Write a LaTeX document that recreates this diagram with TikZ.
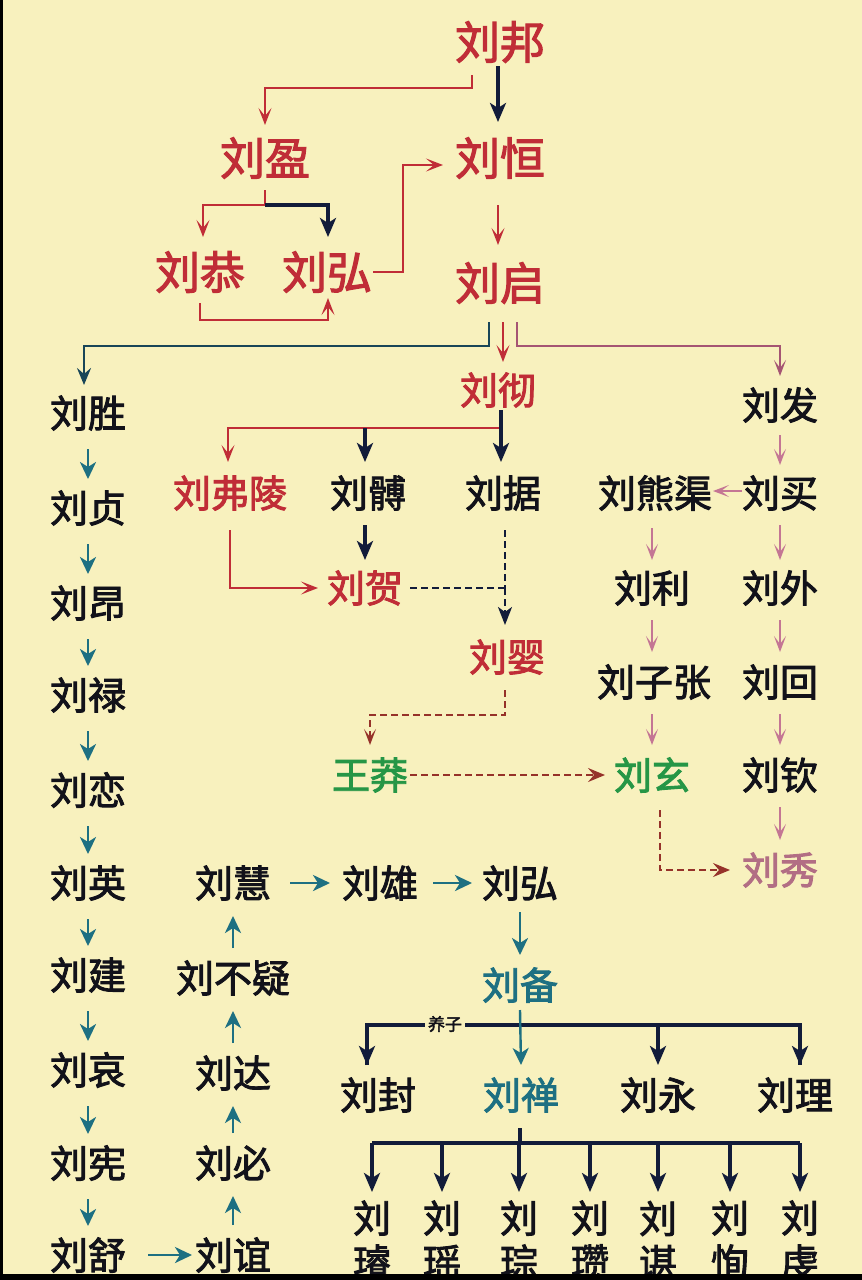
\documentclass[tikz,border=0pt]{standalone}
\usepackage{fontspec}
\newfontfamily\cjk[FakeBold=2.4]{Noto Sans CJK SC}
\usetikzlibrary{arrows.meta,calc}
\definecolor{bgc}{RGB}{248,241,190}
\definecolor{hred}{RGB}{192,45,55}
\definecolor{navyc}{RGB}{18,28,58}
\definecolor{tealc}{RGB}{30,112,130}
\definecolor{tealnavy}{RGB}{25,70,88}
\definecolor{pinkc}{RGB}{196,118,148}
\definecolor{mauve}{RGB}{165,85,115}
\definecolor{greenc}{RGB}{38,150,70}
\definecolor{txt}{RGB}{18,18,26}
\definecolor{xiuc}{RGB}{178,110,132}
\definecolor{dred}{RGB}{150,50,42}
\tikzset{
  nm/.style={font=\cjk\fontsize{38}{44}\selectfont, inner sep=0pt, text=txt, align=center},
  bign/.style={nm, font=\cjk\fontsize{45}{48}\selectfont},
  rd/.style={text=hred},
  navyarr/.style={draw=navyc, line width=3.2pt, -{Stealth[length=19pt,width=16pt,inset=5pt]}},
  navyline/.style={draw=navyc, line width=3.2pt},
  redarr/.style={draw=hred, line width=2pt, -{Stealth[length=17pt,width=13pt,inset=8pt]}},
  redline/.style={draw=hred, line width=2pt},
  pinkarr/.style={draw=pinkc, line width=1.8pt, -{Stealth[length=16pt,width=12pt,inset=8pt]}},
  mauvearr/.style={draw=mauve, line width=2pt, -{Stealth[length=16pt,width=12pt,inset=8pt]}},
  tealarr/.style={draw=tealc, line width=2.8pt, -{Stealth[length=17pt,width=16pt,inset=5pt]}},
  tnarr/.style={draw=tealnavy, line width=2.6pt, -{Stealth[length=17pt,width=14pt,inset=6pt]}},
  dashnavy/.style={draw=navyc, line width=2.4pt, dash pattern=on 7pt off 4pt},
  dashred/.style={draw=dred, line width=2pt, dash pattern=on 7pt off 4pt},
}
\begin{document}
\begin{tikzpicture}[x=1pt,y=-1pt]
\useasboundingbox (0,0) rectangle (862,1280);
\fill[bgc] (0,0) rectangle (862,1280);

% --- top (red, large)
\node[bign,rd] (bang) at (500,42) {刘邦};
\node[bign,rd] (ying) at (265,158) {刘盈};
\node[bign,rd] (heng) at (500,158) {刘恒};
\node[bign,rd] (gong) at (200,272) {刘恭};
\node[bign,rd] (hongA) at (327,272) {刘弘};
\node[bign,rd] (qi) at (500,283) {刘启};

% --- middle
\node[nm,rd] (che) at (498,390) {刘彻};
\node[nm] (fa) at (780,405) {刘发};
\node[nm,rd] (fuling) at (230,493) {刘弗陵};
\node[nm] (bo) at (368,493) {刘髆};
\node[nm] (ju) at (503,493) {刘据};
\node[nm] (xiongqu) at (655,493) {刘熊渠};
\node[nm] (mai) at (780,493) {刘买};
\node[nm,rd] (he) at (365,588) {刘贺};
\node[nm] (li) at (652,588) {刘利};
\node[nm] (wai) at (780,588) {刘外};
\node[nm,rd] (yingB) at (507,657) {刘婴};
\node[nm] (zizhang) at (654,682) {刘子张};
\node[nm] (hui) at (780,682) {刘回};
\node[nm,text=greenc] (mang) at (370,775) {王莽};
\node[nm,text=greenc] (xuan) at (652,775) {刘玄};
\node[nm] (qin) at (780,775) {刘钦};
\node[nm,text=xiuc] (xiu) at (780,870) {刘秀};

% --- left column
\node[nm] (sheng) at (88,413) {刘胜};
\node[nm] (zhen) at (88,508) {刘贞};
\node[nm] (ang) at (88,603) {刘昂};
\node[nm] (lu) at (88,695) {刘禄};
\node[nm] (lian) at (88,790) {刘恋};
\node[nm] (yingC) at (88,883) {刘英};
\node[nm] (jian) at (88,975) {刘建};
\node[nm] (ai) at (88,1070) {刘哀};
\node[nm] (xian) at (88,1163) {刘宪};
\node[nm] (shu) at (88,1255) {刘舒};

% --- second column up
\node[nm] (yi) at (233,1255) {刘谊};
\node[nm] (bi) at (233,1163) {刘必};
\node[nm] (da) at (233,1073) {刘达};
\node[nm] (buyi) at (233,978) {刘不疑};
\node[nm] (huiA) at (233,883) {刘慧};
\node[nm] (xiong) at (380,883) {刘雄};
\node[nm] (hongB) at (520,883) {刘弘};
\node[nm,text=tealc] (bei) at (520,985) {刘备};
\node[nm] (feng) at (378,1095) {刘封};
\node[nm,text=tealc] (shan) at (521,1095) {刘禅};
\node[nm] (yong) at (658,1095) {刘永};
\node[nm] (lili) at (795,1095) {刘理};

% --- grandsons
\node[nm] (s1) at (372,1240) {刘\\璿};
\node[nm] (s2) at (442,1240) {刘\\瑶};
\node[nm] (s3) at (519,1240) {刘\\琮};
\node[nm] (s4) at (590,1240) {刘\\瓒};
\node[nm] (s5) at (658,1240) {刘\\谌};
\node[nm] (s6) at (730,1240) {刘\\恂};
\node[nm] (s7) at (800,1240) {刘\\虔};

% ===== connectors, top
\draw[redarr] ($(bang)+(-28,33)$) -- ($(bang)+(-28,46)$) -| ($(ying)+(0,-33)$);
\draw[navyarr] ($(bang)+(-2,24)$) -- ($(heng)+(-2,-36)$);
\draw[redarr] ($(ying)+(0,32)$) -- ($(ying)+(0,47)$) -| ($(gong)+(3,-35)$);
\draw[navyarr] ($(ying)+(0,47)$) -| ($(hongA)+(1,-35)$);
\draw[redarr] ($(hongA)+(46,0)$) -- ($(hongA)+(76,0)$) |- ($(heng)+(-57,7)$);
\draw[redarr] ($(heng)+(-2,47)$) -- ($(qi)+(-2,-38)$);
\draw[redarr] ($(gong)+(0,31)$) -- ($(gong)+(0,48)$) -| ($(hongA)+(1,26)$);

% ===== from 刘启
\draw[tnarr] ($(qi)+(-11,39)$) -- ($(qi)+(-11,63)$) -| ($(sheng)+(-4,-28)$);
\draw[redarr] ($(qi)+(3,39)$) -- ($(che)+(5,-28)$);
\draw[mauvearr] ($(qi)+(17,39)$) -- ($(qi)+(17,63)$) -| ($(fa)+(0,-29)$);

% ===== from 刘彻
\draw[redarr] ($(che)+(3,38)$) -| ($(fuling)+(-2,-31)$);
\draw[navyarr] ($(bo)+(-3,-65)$) -- ($(bo)+(-3,-31)$);
\draw[navyarr] ($(che)+(3,20)$) -- ($(ju)+(-2,-31)$);

% ===== 刘发 line
\draw[pinkarr] ($(fa)+(0,30)$) -- ($(mai)+(0,-28)$);
\draw[pinkarr] ($(mai)+(-38,-2)$) -- ($(xiongqu)+(58,-2)$);
\draw[pinkarr] ($(mai)+(0,32)$) -- ($(wai)+(0,-28)$);
\draw[pinkarr] ($(wai)+(0,32)$) -- ($(hui)+(0,-30)$);
\draw[pinkarr] ($(hui)+(0,32)$) -- ($(qin)+(0,-30)$);
\draw[pinkarr] ($(qin)+(0,32)$) -- ($(xiu)+(0,-30)$);
\draw[pinkarr] ($(xiongqu)+(-3,35)$) -- ($(li)+(0,-28)$);
\draw[pinkarr] ($(li)+(0,32)$) -- ($(zizhang)+(-2,-30)$);
\draw[pinkarr] ($(zizhang)+(-2,32)$) -- ($(xuan)+(0,-30)$);

% ===== 刘贺 / 刘婴 / 王莽
\draw[redarr] ($(fuling)+(0,37)$) |- ($(he)+(-47,0)$);
\draw[navyarr] ($(bo)+(-3,32)$) -- ($(he)+(0,-28)$);
\draw[dashnavy] ($(ju)+(2,37)$) -- ($(yingB)+(-2,-69)$);
\draw[dashnavy,-{Stealth[length=18pt,width=14pt,inset=5pt]}] ($(yingB)+(-2,-69)$) -- ($(yingB)+(-2,-32)$);
\draw[dashnavy] ($(he)+(45,0)$) -- ($(yingB)+(-2,-69)$);
\draw[dashred,-{Stealth[length=16pt,width=12pt,inset=8pt]}] ($(yingB)+(-2,33)$) -- ($(yingB)+(-2,58)$) -| ($(mang)+(0,-30)$);
\draw[dashred,-{Stealth[length=17pt,width=14pt,inset=6pt]}] ($(mang)+(40,0)$) -- ($(xuan)+(-47,0)$);
\draw[dashred,-{Stealth[length=17pt,width=14pt,inset=6pt]}] ($(xuan)+(8,35)$) |- ($(xiu)+(-50,0)$);

% ===== left column
\foreach \a/\b in {sheng/zhen,zhen/ang,ang/lu,lu/lian,lian/yingC,yingC/jian,jian/ai,ai/xian,xian/shu}
  \draw[tealarr] ($(\a)+(0,36)$) -- ($(\b)+(0,-29)$);
\draw[tealarr] ($(shu)+(60,0)$) -- ($(yi)+(-41,0)$);
\foreach \a/\b in {yi/bi,bi/da,da/buyi,buyi/huiA}
  \draw[tealarr] ($(\a)+(0,-30)$) -- ($(\b)+(0,33)$);
\draw[tealarr] ($(huiA)+(57,0)$) -- ($(xiong)+(-50,0)$);
\draw[tealarr] ($(xiong)+(53,0)$) -- ($(hongB)+(-48,0)$);
\draw[tealarr] ($(hongB)+(0,29)$) -- ($(bei)+(0,-30)$);

% ===== 刘备 children
\draw[navyline] ($(feng)+(-11,-30)$) -- ($(feng)+(-11,-70)$) -- ($(lili)+(5,-70)$) -- ($(lili)+(5,-30)$);
\node[font=\cjk\fontsize{17}{18}\selectfont, fill=bgc, inner xsep=3pt, inner ysep=1pt, text=txt] (yangzi) at (445,1024) {养子};
\draw[navyarr] ($(feng)+(-11,-70)$) -- ($(feng)+(-11,-30)$);
\draw[navyarr] ($(yong)+(0,-70)$) -- ($(yong)+(0,-30)$);
\draw[navyarr] ($(lili)+(5,-70)$) -- ($(lili)+(5,-30)$);
\draw[tealarr, line width=2.4pt] ($(bei)+(0,25)$) -- ($(shan)+(0,-30)$);

% ===== 刘禅 children
\draw[navyline] ($(shan)+(-1,33)$) -- ($(shan)+(-1,48)$);
\draw[navyline] ($(s1)+(0,-97)$) -- ($(s7)+(0,-97)$);
\foreach \s in {s1,s2,s3,s4,s5,s6,s7}
  \draw[navyarr] ($(\s)+(0,-97)$) -- ($(\s)+(0,-48)$);

% frame strips
\fill[black] (0,1274) rectangle (862,1280);
\fill[black] (0,0) rectangle (3,1280);
\end{tikzpicture}
\end{document}
